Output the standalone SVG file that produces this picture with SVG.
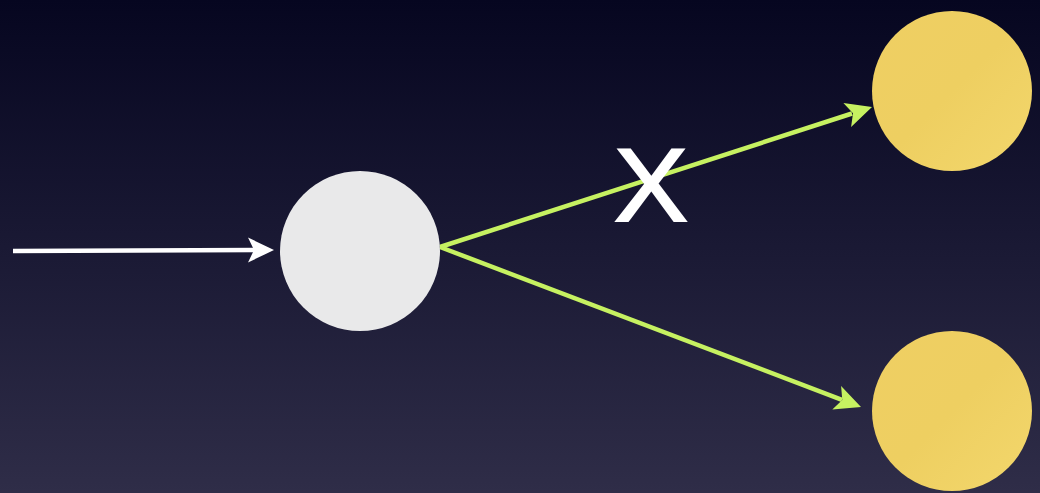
<svg xmlns="http://www.w3.org/2000/svg" width="1040" height="493" viewBox="0 0 1040 493">
  <defs>
    <linearGradient id="bg" x1="0" y1="0" x2="0" y2="1">
      <stop offset="0" stop-color="#060620"/>
      <stop offset="0.5" stop-color="#1a1934"/>
      <stop offset="1" stop-color="#2f2d48"/>
    </linearGradient>
    <linearGradient id="sun" x1="0" y1="0" x2="1" y2="1">
      <stop offset="0" stop-color="#efcf63"/>
      <stop offset="0.5" stop-color="#eecf61"/>
      <stop offset="1" stop-color="#f3d76c"/>
    </linearGradient>
    <style>
      .node-white { fill: #e9e9ea; }
      .node-sun { fill: url(#sun); }
      .conn-w { stroke: #ffffff; stroke-width: 4.5; fill: none; }
      .conn-g { stroke: #c6f161; stroke-width: 4.5; fill: none; }
      .head-w { fill: #ffffff; }
      .head-g { fill: #c6f161; }
      .lbl { font-family: "Liberation Sans", Arial, sans-serif; fill: #ffffff; stroke: #ffffff; stroke-width: 2; }
    </style>
  </defs>
  <rect x="0" y="0" width="1040" height="493" fill="url(#bg)"/>

  <g id="connectors">
    <line class="conn-w" x1="13" y1="251" x2="256" y2="250"/>
    <polygon class="head-w" points="274,250 248,237.5 254,250 248,262.5"/>
    <line class="conn-g" x1="440" y1="247" x2="852" y2="113.5"/>
    <polygon class="head-g" points="872,107 843.4,103.1 853,113.2 851.1,126.9"/>
    <line class="conn-g" x1="440" y1="247" x2="842" y2="399.8"/>
    <polygon class="head-g" points="861,407 832.3,409.4 842.3,399.9 841.1,386.1"/>
  </g>

  <g id="node-center">
    <circle class="node-white" cx="360" cy="251" r="80"/>
  </g>
  <g id="node-top">
    <circle class="node-sun" cx="952" cy="91" r="80"/>
  </g>
  <g id="node-bottom">
    <circle class="node-sun" cx="952" cy="411" r="80"/>
  </g>

  <g id="label-x">
    <text class="lbl" x="651" y="221" font-size="104" text-anchor="middle" textLength="74" lengthAdjust="spacingAndGlyphs">X</text>
  </g>
</svg>
